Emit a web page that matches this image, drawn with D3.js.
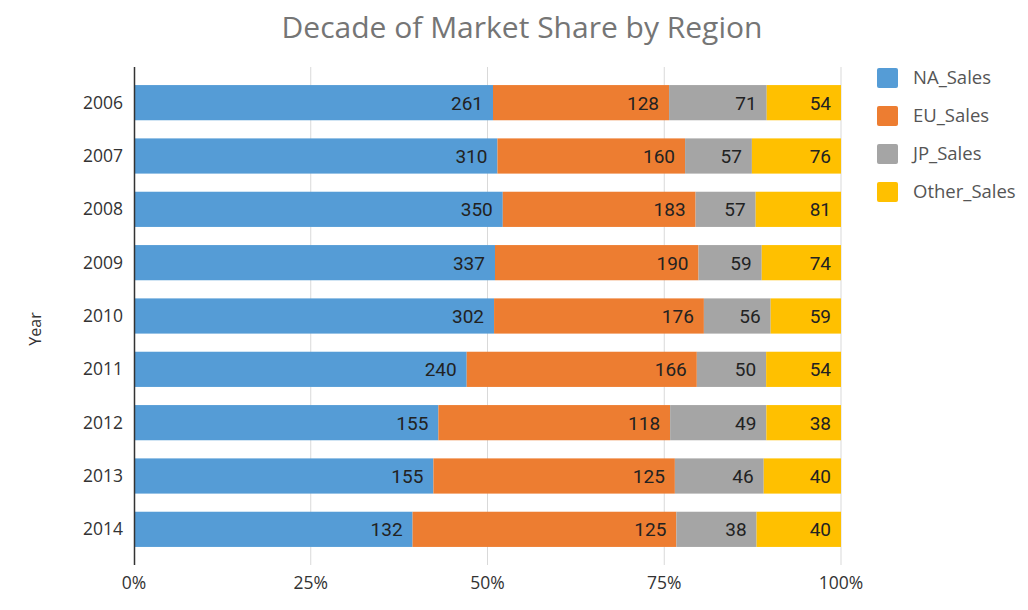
<!DOCTYPE html>
<html>
<head>
<meta charset="utf-8">
<script src="https://cdn.jsdelivr.net/npm/d3@7"></script>
<style>
  body { margin: 0; background: #fff; }
  svg text { font-family: "Open Sans", sans-serif; }
</style>
</head>
<body>
<div class="chart"></div>
<script>
var years = ['2006', '2007', '2008', '2009', '2010', '2011', '2012', '2013', '2014'];
var seriesNames = ['NA_Sales', 'EU_Sales', 'JP_Sales', 'Other_Sales'];
var naSales = [261, 310, 350, 337, 302, 240, 155, 155, 132];
var euSales = [128, 160, 183, 190, 176, 166, 118, 125, 125];
var jpSales = [71, 57, 57, 59, 56, 50, 49, 46, 38];
var otherSales = [54, 76, 81, 74, 59, 54, 38, 40, 40];
var colors = ['#559cd6', '#ed7d31', '#a5a5a5', '#ffc000'];
var xTicks = [0, 0.25, 0.5, 0.75, 1];

var rows = years.map(function(y, i) {
  return { year: y, NA_Sales: naSales[i], EU_Sales: euSales[i], JP_Sales: jpSales[i], Other_Sales: otherSales[i] };
});
var stacked = d3.stack().keys(seriesNames).offset(d3.stackOffsetExpand)(rows);

var svg = d3.select('.chart')
  .append('svg')
  .attr('width', 1028)
  .attr('height', 610);

var x = d3.scaleLinear().domain([0, 1]).range([134, 841]);
var y = d3.scaleBand().domain(years).range([76, 556]).paddingInner(0.34).paddingOuter(0.17);

// grid
svg.append('g').selectAll('line')
  .data(xTicks.slice(1))
  .enter().append('line')
  .attr('x1', function(d) { return x(d); })
  .attr('x2', function(d) { return x(d); })
  .attr('y1', 67)
  .attr('y2', 565)
  .attr('stroke', '#d9d9d9')
  .attr('stroke-width', 1);

// bars
var groups = svg.append('g').selectAll('g')
  .data(stacked)
  .enter().append('g')
  .attr('fill', function(d, i) { return colors[i]; });

groups.selectAll('rect')
  .data(function(d) { return d; })
  .enter().append('rect')
  .attr('x', function(d) { return x(d[0]); })
  .attr('y', function(d) { return y(d.data.year); })
  .attr('width', function(d) { return x(d[1]) - x(d[0]); })
  .attr('height', y.bandwidth());

// value labels
stacked.forEach(function(s) {
  svg.append('g').selectAll('text')
    .data(s)
    .enter().append('text')
    .attr('x', function(d) { return x(d[1]) - 10; })
    .attr('y', function(d) { return y(d.data.year) + y.bandwidth() / 2 + 7; })
    .attr('text-anchor', 'end')
    .style('font-family', 'Roboto, sans-serif')
    .style('font-size', '19px')
    .attr('fill', '#222')
    .text(function(d) { return d.data[s.key]; });
});

// y axis line
svg.append('line')
  .attr('x1', 134.5).attr('x2', 134.5)
  .attr('y1', 67).attr('y2', 565)
  .attr('stroke', '#333').attr('stroke-width', 1.5);

// y tick labels
svg.append('g').selectAll('text')
  .data(years)
  .enter().append('text')
  .attr('x', 123)
  .attr('y', function(d) { return y(d) + y.bandwidth() / 2 + 6; })
  .attr('text-anchor', 'end')
  .style('font-size', '17.5px')
  .attr('fill', '#333')
  .text(function(d) { return d; });

// x tick labels
svg.append('g').selectAll('text')
  .data(xTicks)
  .enter().append('text')
  .attr('x', function(d) { return x(d); })
  .attr('y', 589)
  .attr('text-anchor', 'middle')
  .style('font-size', '17.5px')
  .attr('fill', '#333')
  .text(function(d) { return d3.format('.0%')(d); });

// axis title
svg.append('text')
  .attr('transform', 'translate(41,329) rotate(-90)')
  .attr('text-anchor', 'middle')
  .style('font-size', '16px')
  .attr('fill', '#333')
  .text('Year');

// title
svg.append('text')
  .attr('x', 522)
  .attr('y', 38)
  .attr('text-anchor', 'middle')
  .style('font-size', '30px')
  .attr('fill', '#757575')
  .text('Decade of Market Share by Region');

// legend
var legend = svg.append('g').selectAll('g')
  .data(seriesNames)
  .enter().append('g')
  .attr('transform', function(d, i) { return 'translate(877,' + (68 + i * 38) + ')'; });
legend.append('rect')
  .attr('width', 21).attr('height', 20).attr('rx', 2)
  .attr('fill', function(d, i) { return colors[i]; });
legend.append('text')
  .attr('x', 36).attr('y', 16)
  .style('font-size', '18.5px')
  .attr('fill', '#555')
  .text(function(d) { return d; });
</script>
</body>
</html>
